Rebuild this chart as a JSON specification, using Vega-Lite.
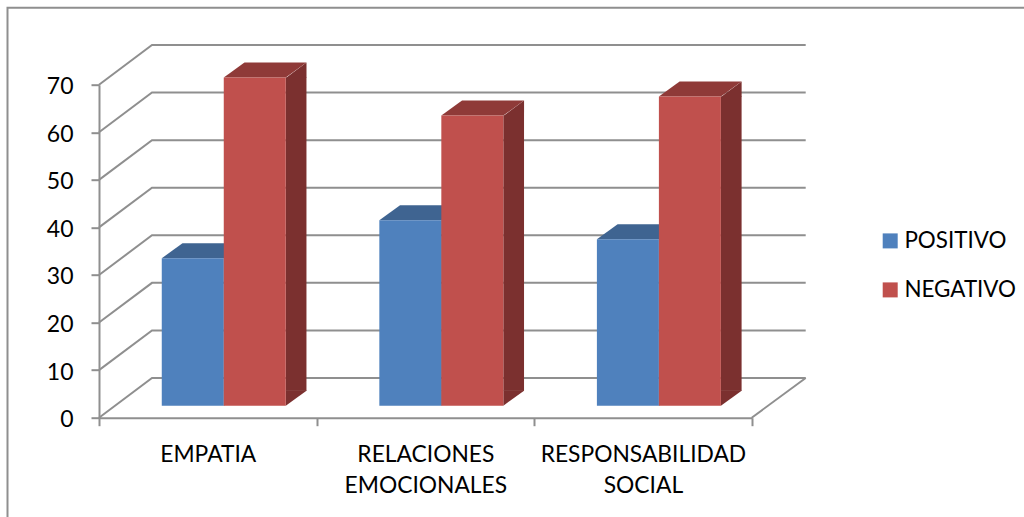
{"$schema":"https://vega.github.io/schema/vega-lite/v6.json","width":652.7,"height":333,"autosize":"none","padding":{"left":99,"top":84.7,"right":272.3,"bottom":99.3},"background":"white","view":{"stroke":null},"config":{"font":"Lato","axis":{"labelFont":"Lato"},"legend":{"labelFont":"Lato"}},"datasets":{"bars":[{"categoria":"EMPATIA","serie":"POSITIVO","valor":31},{"categoria":"EMPATIA","serie":"NEGATIVO","valor":69},{"categoria":"RELACIONES EMOCIONALES","serie":"POSITIVO","valor":39},{"categoria":"RELACIONES EMOCIONALES","serie":"NEGATIVO","valor":61},{"categoria":"RESPONSABILIDAD SOCIAL","serie":"POSITIVO","valor":35},{"categoria":"RESPONSABILIDAD SOCIAL","serie":"NEGATIVO","valor":65}],"ticks":[{"tick":0},{"tick":10},{"tick":20},{"tick":30},{"tick":40},{"tick":50},{"tick":60},{"tick":70}],"base":[{"tick":0}]},"resolve":{"scale":{"xOffset":"independent"}},"layer":[{"data":{"name":"ticks"},"mark":{"type":"point","shape":"M0 0 L53 -39.7 L706.7 -39.7","size":4,"filled":false,"stroke":"#8f8f8f","strokeWidth":2,"opacity":1},"encoding":{"x":{"datum":"EMPATIA","type":"nominal","bandPosition":0,"sort":null,"title":null,"scale":{"domain":["EMPATIA","RELACIONES EMOCIONALES","RESPONSABILIDAD SOCIAL"],"paddingInner":0,"paddingOuter":0},"axis":{"title":null,"tickBand":"extent","labelAngle":0,"labelExpr":"split(datum.label,' ')","labelFontSize":22.8,"labelColor":"#000000","labelLineHeight":31,"labelPadding":18,"labelLimit":0,"labelOverlap":false,"labelBaseline":"top","domainColor":"#8f8f8f","domainWidth":2,"tickColor":"#8f8f8f","tickWidth":2,"tickSize":8,"grid":false}},"y":{"field":"tick","type":"quantitative","title":null,"scale":{"domain":[0,70],"nice":false},"axis":{"title":null,"values":[0,10,20,30,40,50,60,70],"labelFontSize":23,"labelColor":"#000000","labelPadding":18,"labelOffset":2,"domainColor":"#8f8f8f","domainWidth":2,"tickColor":"#8f8f8f","tickWidth":2,"tickSize":8,"grid":false}}}},{"data":{"name":"base"},"mark":{"type":"point","shape":"M652.7 0 L706.7 -39.7","size":4,"filled":false,"stroke":"#8f8f8f","strokeWidth":2,"opacity":1},"encoding":{"x":{"datum":"EMPATIA","type":"nominal","bandPosition":0,"sort":null,"title":null},"y":{"field":"tick","type":"quantitative","title":null}}},{"data":{"name":"base"},"mark":{"type":"point","shape":"M-91.5 110 L-91.5 -410 L940 -410","size":4,"filled":false,"stroke":"#8f8f8f","strokeWidth":2,"opacity":1},"encoding":{"x":{"datum":"EMPATIA","type":"nominal","bandPosition":0,"sort":null,"title":null},"y":{"field":"tick","type":"quantitative","title":null}}},{"data":{"name":"bars"},"mark":{"type":"bar","width":20.7,"yOffset":-12,"y2Offset":-27},"encoding":{"x":{"field":"categoria","type":"nominal","sort":null,"title":null},"xOffset":{"field":"serie","type":"nominal","scale":{"domain":["POSITIVO","NEGATIVO"],"paddingInner":0,"paddingOuter":0.7527,"range":[57.45,274.78]}},"y":{"field":"valor","type":"quantitative","title":null},"y2":{"datum":0},"fill":{"condition":{"test":"datum.serie==='POSITIVO'","value":"#335478"},"value":"#7b302f"}}},{"data":{"name":"bars"},"mark":{"type":"point","shape":"M31 0.5 L51.7 -15 L51.7 0.5 Z","size":4,"filled":true,"opacity":1,"yOffset":-12,"strokeWidth":0},"encoding":{"x":{"field":"categoria","type":"nominal","sort":null,"title":null},"xOffset":{"field":"serie","type":"nominal","scale":{"domain":["POSITIVO","NEGATIVO"],"padding":1,"range":[31.77,217.77]}},"y":{"field":"valor","type":"quantitative","title":null},"fill":{"condition":{"test":"datum.serie==='POSITIVO'","value":"#335478"},"value":"#7b302f"}}},{"data":{"name":"bars"},"mark":{"type":"point","shape":"M31 0 L51.7 -15 L51.7 -15.5 L31 -15.5 Z","size":4,"filled":true,"opacity":1,"yOffset":-12,"strokeWidth":0},"encoding":{"x":{"field":"categoria","type":"nominal","sort":null,"title":null},"xOffset":{"field":"serie","type":"nominal","scale":{"domain":["POSITIVO","NEGATIVO"],"padding":1,"range":[31.77,217.77]}},"y":{"datum":0,"type":"quantitative","title":null},"fill":{"condition":{"test":"datum.serie==='POSITIVO'","value":"#335478"},"value":"#7b302f"}}},{"data":{"name":"bars"},"mark":{"type":"point","shape":"M-31 0 L31 0 L51.7 -15 L-10.3 -15 Z","size":4,"filled":true,"opacity":1,"yOffset":-12,"strokeWidth":0},"encoding":{"x":{"field":"categoria","type":"nominal","sort":null,"title":null},"xOffset":{"field":"serie","type":"nominal","scale":{"domain":["POSITIVO","NEGATIVO"],"padding":1,"range":[31.77,217.77]}},"y":{"field":"valor","type":"quantitative","title":null},"fill":{"condition":{"test":"datum.serie==='POSITIVO'","value":"#3f6491"},"value":"#8f3a38"}}},{"data":{"name":"bars"},"mark":{"type":"bar","yOffset":-12,"y2Offset":-12},"encoding":{"x":{"field":"categoria","type":"nominal","sort":null,"title":null},"xOffset":{"field":"serie","type":"nominal","scale":{"domain":["POSITIVO","NEGATIVO"],"paddingInner":0,"paddingOuter":0.7527,"range":[16.1,233.43]}},"y":{"field":"valor","type":"quantitative","title":null},"y2":{"datum":0},"color":{"field":"serie","type":"nominal","scale":{"domain":["POSITIVO","NEGATIVO"],"range":["#4f81bd","#c0504d"]},"legend":{"title":null,"orient":"none","legendX":780,"legendY":145,"symbolType":"square","symbolSize":225,"symbolStrokeWidth":0,"labelFontSize":22.4,"labelColor":"#000000","labelOffset":3,"rowPadding":26,"labelLimit":0}}}}]}
